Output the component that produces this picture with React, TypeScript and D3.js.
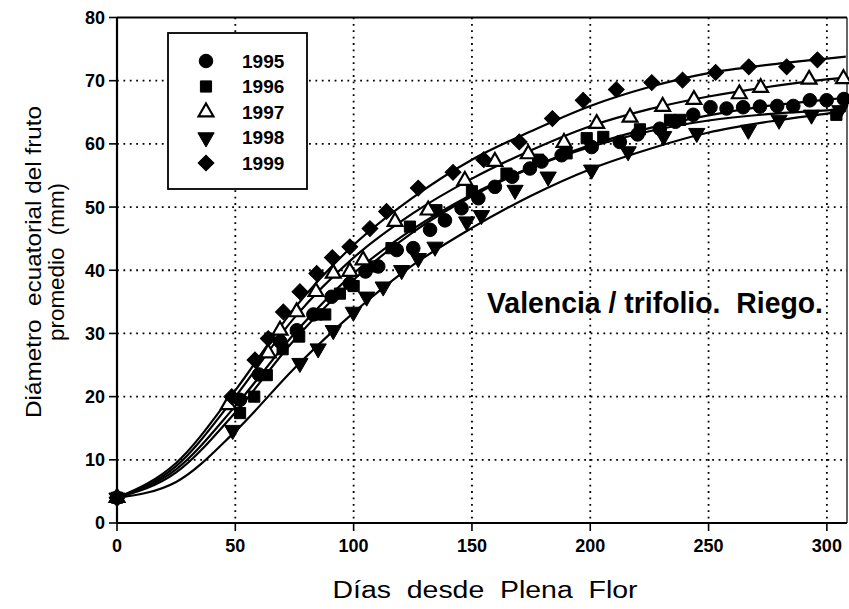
import React from "react";
import * as d3 from "d3";

const years = ["1995", "1996", "1997", "1998", "1999"];

// Observed points [day, mm]
const obs1995: [number, number][] = [[0,4],[52,19.5],[60,23.5],[69,28.7],[76,30.5],[83,33],[90.7,35.8],[98.4,37.9],[105,39.8],[110.4,40.6],[118.2,43.2],[125.2,43.5],[132.3,46.4],[138.6,47.9],[145.6,49.8],[152.7,51.4],[159.7,53.2],[167,54.8],[174.5,56.1],[179.4,57.2],[187.9,58.2],[200.6,59.5],[212.5,60.3],[220,61.5],[229.4,62.4],[236,63.5],[243.5,64.6],[250.8,65.8],[257.6,65.6],[264.6,65.8],[271.7,65.9],[279,66],[285.8,66],[292.8,66.9],[299.9,66.9],[307.2,67.1]];
const obs1996: [number, number][] = [[0,4],[52,17.4],[58,20],[63.3,23.4],[70,27.5],[77,29.5],[84.4,33],[88,33],[94.2,36.3],[100,37.5],[109,40.6],[116,43.5],[123.8,46.9],[135,49.5],[150,52.5],[164.6,55.3],[178,57.5],[190,58.5],[198.5,60.9],[205.5,61.1],[221,62.3],[233.7,63.8],[238,63.8],[304,64.6]];
const obs1997: [number, number][] = [[0,4],[47,18.7],[63.9,26.9],[68.9,30.5],[75.9,33.4],[84.1,36.6],[91.4,39.5],[98.4,39.8],[104,41.6],[117.5,47.7],[131.5,49.5],[147,54.2],[159.7,57.2],[173.8,58.4],[188.9,60.2],[202.7,63.2],[216.8,64.2],[230.6,65.9],[243.8,67],[263,67.9],[272,68.9],[292.5,70.2],[307,70.3]];
const obs1998: [number, number][] = [[0,4],[48.9,14.7],[77.3,25.3],[85,27.6],[91.4,30.5],[99.9,33.4],[105.5,35.8],[112.5,37.4],[120.3,40],[127.3,41.9],[134.4,43.7],[147.8,47.7],[154,48.7],[168.2,52.7],[182.2,54.8],[200.6,55.9],[216,58.8],[231,61.2],[245,61.7],[266.8,62.2],[279.8,63.8],[293.5,64.6],[305.5,65.3]];
const obs1999: [number, number][] = [[0,4],[48.5,20],[58.3,25.8],[63.9,29.2],[70.3,33.4],[77.3,36.6],[84.4,39.5],[91,42],[98.4,43.7],[106.9,46.6],[113.9,49.3],[127.3,53],[142,55.5],[155,57.5],[170,60.3],[184,64],[197,66.9],[211,68.6],[226,69.7],[239,70.1],[253,71.3],[267,72.2],[283,72.2],[296,73.3]];

// Fitted curves [day, mm]
const fit1995: [number, number][] = [[0,4],[25,8.5],[50,18.5],[75,30],[100,39.5],[125,46.5],[150,52],[175,56.3],[200,59.8],[225,62.5],[250,64.5],[275,66],[300,67],[308,67.3]];
const fit1996: [number, number][] = [[0,4],[25,8],[50,17.5],[75,29],[100,38.5],[125,46],[150,51.7],[175,56.2],[200,59.5],[225,62],[250,63.7],[275,64.7],[300,65.3],[308,65.5]];
const fit1997: [number, number][] = [[0,4],[25,9],[50,20],[75,32.5],[100,42],[125,49],[150,54.5],[175,59],[200,62.8],[225,65.5],[250,67.5],[275,69],[300,70.2],[308,70.5]];
const fit1998: [number, number][] = [[0,4],[25,6.5],[50,14.5],[75,24.5],[100,33.3],[125,40.8],[150,46.7],[175,51.8],[200,56],[225,59.2],[250,61.8],[275,63.5],[300,64.8],[308,65.2]];
const fit1999: [number, number][] = [[0,4],[25,9.5],[50,21],[75,34],[100,44],[125,51.5],[150,57.5],[175,62],[200,66],[225,69],[250,71.2],[275,72.5],[300,73.5],[308,73.8]];

const xTicks = [0, 50, 100, 150, 200, 250, 300];
const yTicks = [0, 10, 20, 30, 40, 50, 60, 70, 80];

const observed = [obs1995, obs1996, obs1997, obs1998, obs1999];
const fitted = [fit1995, fit1996, fit1997, fit1998, fit1999];

const FONT = "'Liberation Sans', Arial, sans-serif";

function symbolPath(i: number): { d: string; rotate: number; fill: string } {
  if (i === 0) return { d: d3.symbol(d3.symbolCircle, 145)() as string, rotate: 0, fill: "#000" };
  if (i === 1) return { d: d3.symbol(d3.symbolSquare, 125)() as string, rotate: 0, fill: "#000" };
  if (i === 2) return { d: d3.symbol(d3.symbolTriangle, 95)() as string, rotate: 0, fill: "#fff" };
  if (i === 3) return { d: d3.symbol(d3.symbolTriangle, 115)() as string, rotate: 180, fill: "#000" };
  return { d: d3.symbol(d3.symbolSquare, 125)() as string, rotate: 45, fill: "#000" };
}

export default function App() {
  const W = 849, H = 609;
  const x = d3.scaleLinear().domain([0, 308.5]).range([117, 847]);
  const y = d3.scaleLinear().domain([0, 80]).range([523, 17.5]);
  const line = d3.line<[number, number]>().x(d => x(d[0])).y(d => y(d[1])).curve(d3.curveMonotoneX);

  return (
    <svg width={W} height={H} style={{ position: "absolute", left: 0, top: 0, background: "#fff" }} fontFamily={FONT}>
      <rect x={0} y={0} width={W} height={H} fill="#fff" />
      {/* grid */}
      {xTicks.filter(t => t > 0).map(t => (
        <line key={"gx" + t} x1={x(t)} x2={x(t)} y1={y(80)} y2={y(0)} stroke="#000" strokeWidth={1.8} strokeDasharray="1.8 4.6" />
      ))}
      {yTicks.filter(t => t > 0 && t < 80).map(t => (
        <line key={"gy" + t} x1={x(0)} x2={847} y1={y(t)} y2={y(t)} stroke="#000" strokeWidth={1.8} strokeDasharray="1.8 4.6" />
      ))}
      {/* frame */}
      <line x1={x(0)} x2={847} y1={y(80)} y2={y(80)} stroke="#000" strokeWidth={1.8} />
      <line x1={847} x2={847} y1={y(80)} y2={y(0)} stroke="#000" strokeWidth={1.2} />
      <line x1={x(0)} x2={x(0)} y1={y(80)} y2={y(0)} stroke="#000" strokeWidth={2.2} />
      <line x1={x(0)} x2={847} y1={y(0)} y2={y(0)} stroke="#000" strokeWidth={2.2} />
      {/* ticks */}
      {yTicks.map(t => (
        <g key={"yt" + t}>
          <line x1={x(0) - 8} x2={x(0)} y1={y(t)} y2={y(t)} stroke="#000" strokeWidth={1.6} />
          <text x={x(0) - 12} y={y(t)} dy="0.36em" textAnchor="end" fontSize={18} fontWeight="bold">{t}</text>
        </g>
      ))}
      {xTicks.map(t => (
        <g key={"xt" + t}>
          <line x1={x(t)} x2={x(t)} y1={y(0)} y2={y(0) + 8} stroke="#000" strokeWidth={1.6} />
          <text x={x(t)} y={y(0) + 23} dy="0.36em" textAnchor="middle" fontSize={18} fontWeight="bold">{t}</text>
        </g>
      ))}
      {/* curves */}
      {fitted.map((f, i) => (
        <path key={"c" + i} d={line(f) as string} fill="none" stroke="#000" strokeWidth={2.2} />
      ))}
      {/* points */}
      {observed.map((s, i) => {
        const sp = symbolPath(i);
        return (
          <g key={"s" + i}>
            {s.map((p, j) => (
              <path key={j} d={sp.d} transform={`translate(${x(p[0])},${y(p[1])}) rotate(${sp.rotate})`} fill={sp.fill} stroke="#000" strokeWidth={i === 2 ? 2.2 : 1} />
            ))}
          </g>
        );
      })}
      {/* legend */}
      <rect x={168} y={33} width={139} height={156} fill="#fff" stroke="#000" strokeWidth={1.8} />
      {years.map((yr, i) => {
        const sp = symbolPath(i);
        const cy = 61 + i * 25.5;
        return (
          <g key={"l" + i}>
            <path d={sp.d} transform={`translate(206,${cy}) rotate(${sp.rotate})`} fill={sp.fill} stroke="#000" strokeWidth={i === 2 ? 2.2 : 1} />
            <text x={242} y={cy} dy="0.36em" fontSize={19} fontWeight="bold">{yr}</text>
          </g>
        );
      })}
      {/* annotation */}
      <text x={487} y={313} fontSize={29} fontWeight="bold" textLength={336} lengthAdjust="spacingAndGlyphs" style={{ whiteSpace: "pre" }}>{"Valencia / trifolio.  Riego."}</text>
      {/* axis titles */}
      <text x={485} y={598} textAnchor="middle" fontSize={23} textLength={305} lengthAdjust="spacingAndGlyphs" style={{ whiteSpace: "pre" }}>{"Días  desde  Plena  Flor"}</text>
      <g transform="translate(33,262) rotate(-90)">
        <text x={0} y={0} dy="0.36em" textAnchor="middle" fontSize={22} textLength={312} lengthAdjust="spacingAndGlyphs" style={{ whiteSpace: "pre" }}>{"Diámetro  ecuatorial del fruto"}</text>
        <text x={0} y={23} dy="0.36em" textAnchor="middle" fontSize={22} textLength={158} lengthAdjust="spacingAndGlyphs" style={{ whiteSpace: "pre" }}>{"promedio  (mm)"}</text>
      </g>
    </svg>
  );
}
